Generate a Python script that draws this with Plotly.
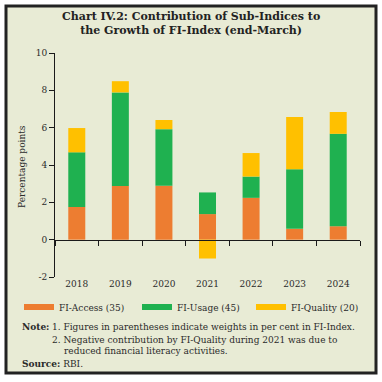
import plotly.graph_objects as go

years = ["2018", "2019", "2020", "2021", "2022", "2023", "2024"]
fi_access = [1.75, 2.87, 2.89, 1.37, 2.24, 0.58, 0.72]
fi_usage = [2.93, 5.02, 3.03, 1.16, 1.14, 3.19, 4.95]
fi_quality = [1.30, 0.60, 0.49, -1.01, 1.26, 2.80, 1.17]
series_names = ["FI-Access (35)", "FI-Usage (45)", "FI-Quality (20)"]
colors = ["#ED7D31", "#1FB150", "#FFC000"]
y_ticks = [-2, 0, 2, 4, 6, 8, 10]
y_tick_labels = ["-2", "0", "2", "4", "6", "8", "10"]

BG = "#E8EBD5"
TXT = "#2a2a2a"
FONT = "DejaVu Serif"

W, H = 382, 382
L, R, T, B = 55, 22, 53, 105
pw, ph = W - L - R, H - T - B

def px(x):
    return (x - L) / pw

def py(y):
    return (H - B - y) / ph

fig = go.Figure()
for name, vals, c in zip(series_names, [fi_access, fi_usage, fi_quality], colors):
    fig.add_trace(go.Bar(x=years, y=vals, name=name, marker=dict(color=c, line=dict(width=0)),
                         width=0.39, showlegend=False))
# legend swatches, one legend each so they can be placed like the reference
legend_ids = ["legend", "legend2", "legend3"]
legend_x = [19, 137, 251]
for name, c, lid in zip(series_names, colors, legend_ids):
    fig.add_trace(go.Scatter(x=[None], y=[None], mode="lines", name=name,
                             line=dict(color=c, width=6), legend=lid))
# zero-line axis with boundary ticks
fig.add_trace(go.Scatter(x=years, y=[None] * len(years), xaxis="x2", showlegend=False,
                         hoverinfo="skip"))

leg_common = dict(orientation="h", xanchor="left", yanchor="middle",
                  bgcolor="rgba(0,0,0,0)", font=dict(size=9, family=FONT, color=TXT),
                  itemwidth=30)

fig.update_layout(
    width=W, height=H,
    margin=dict(l=L, r=R, t=T, b=B),
    paper_bgcolor="white",
    plot_bgcolor=BG,
    barmode="relative",
    font=dict(family=FONT, color=TXT, size=8),
    xaxis=dict(type="category", categoryorder="array", categoryarray=years,
               range=[-0.5, 6.5], showline=False, ticks="", showgrid=False,
               tickfont=dict(size=9, family=FONT, color=TXT), ticklabelstandoff=0),
    xaxis2=dict(type="category", categoryorder="array", categoryarray=years,
                overlaying="x", anchor="free", position=1/6, range=[-0.5, 6.5],
                showline=True, linecolor="#1a1a1a", linewidth=1,
                ticks="outside", tickson="boundaries", ticklen=5, tickcolor="#1a1a1a",
                showticklabels=False, showgrid=False),
    yaxis=dict(range=[-2, 10], tickvals=y_ticks, ticktext=y_tick_labels,
               showline=True, linecolor="#1a1a1a",
               linewidth=1, ticks="outside", ticklen=5, tickcolor="#1a1a1a",
               showgrid=False, zeroline=False,
               tickfont=dict(size=9, family=FONT, color=TXT)),
    legend=dict(x=px(legend_x[0]), y=py(307), **leg_common),
    legend2=dict(x=px(legend_x[1]), y=py(307), **leg_common),
    legend3=dict(x=px(legend_x[2]), y=py(307), **leg_common),
    showlegend=True,
)

fig.add_shape(type="rect", xref="paper", yref="paper",
              x0=px(6), x1=px(376), y0=py(373), y1=py(6),
              line=dict(color="#222222", width=3), fillcolor=BG, layer="below")

fig.add_annotation(xref="paper", yref="paper", x=px(191), y=py(23.5),
                   text="<b>Chart IV.2: Contribution of Sub-Indices to<br>the Growth of FI-Index (end-March)</b>",
                   showarrow=False, xanchor="center", yanchor="middle",
                   font=dict(size=11, family=FONT, color="#222"))
fig.add_annotation(xref="paper", yref="paper", x=px(22), y=py(167),
                   text="Percentage points", textangle=-90, showarrow=False,
                   xanchor="center", yanchor="middle",
                   font=dict(size=9, family=FONT, color=TXT))

notes = [
    (20, 327, "<b>Note:</b>"),
    (50, 327, "1. Figures in parentheses indicate weights in per cent in FI-Index."),
    (50, 340, "2. Negative contribution by FI-Quality during 2021 was due to"),
    (62, 351, "reduced financial literacy activities."),
    (20, 364, "<b>Source:</b> RBI."),
]
for x, y, t in notes:
    fig.add_annotation(xref="paper", yref="paper", x=px(x), y=py(y), text=t,
                       showarrow=False, xanchor="left", yanchor="middle",
                       font=dict(size=9.0, family=FONT, color=TXT))

fig.write_html("out.html", config={"displayModeBar": False},
               post_script="document.body.style.margin='0';")
